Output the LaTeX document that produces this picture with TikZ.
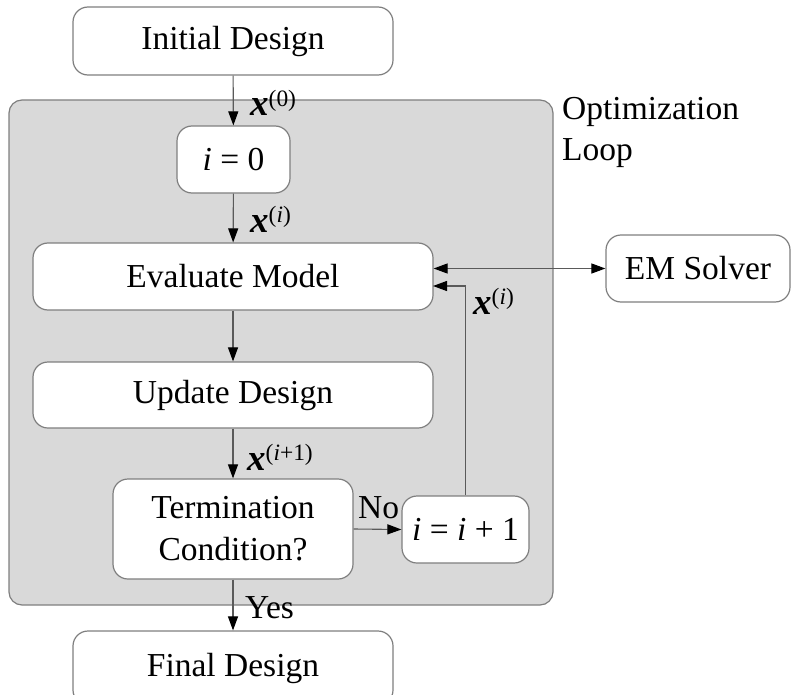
\documentclass[tikz,border=0pt]{standalone}
\usepackage{fontspec}
\setmainfont{Liberation Serif}
\usetikzlibrary{arrows.meta}
\definecolor{loopgray}{HTML}{D9D9D9}
\definecolor{edgegray}{HTML}{7F7F7F}
\definecolor{linegray}{HTML}{5A5A5A}
\newcommand{\bxv}{{\fontsize{37}{37}\selectfont\bfseries\itshape x}}
\begin{document}
\begin{tikzpicture}[x=1pt,y=-1pt,
  box/.style={draw=edgegray, line width=1.2pt, fill=white, rounded corners=15pt,
    inner sep=0pt, align=center, font=\fontsize{33.5}{42}\selectfont},
  loopbox/.style={draw=edgegray, line width=1.2pt, fill=loopgray, rounded corners=13pt, inner sep=0pt},
  conn/.style={draw=linegray, line width=1.1pt, -{Triangle[length=14pt,width=10pt,color=black]}},
  dconn/.style={draw=linegray, line width=1.1pt, {Triangle[length=14pt,width=10pt,color=black]}-{Triangle[length=14pt,width=10pt,color=black]}},
  lbl/.style={inner sep=0pt, font=\fontsize{33.5}{41}\selectfont}]
\useasboundingbox (0,0) rectangle (794,695);
% optimization loop region
\node[loopbox, minimum width=544pt, minimum height=505pt] (loop) at (281,352.5) {};
\node[lbl, anchor=north west, align=left] (looplbl) at (562,97) {Optimization\\Loop};
% boxes
\node[box, minimum width=320pt, minimum height=68pt] (init) at (233,41) {Initial Design};
\node[box, minimum width=113pt, minimum height=67pt] (i0) at (233.5,159.5) {\textit{i} = 0};
\node[box, minimum width=400pt, minimum height=67pt] (eval) at (233,276.5) {Evaluate Model};
\node[box, minimum width=184pt, minimum height=67pt] (em) at (698,268.5) {EM Solver};
\node[box, minimum width=400pt, minimum height=66pt] (upd) at (233,395) {Update Design};
\node[box, minimum width=240pt, minimum height=100pt] (term) at (233,529) {Termination\\Condition?};
\node[box, minimum width=127pt, minimum height=67pt] (inc) at (465.5,529.5) {\textit{i} = \textit{i} + 1};
\node[box, minimum width=320pt, minimum height=74pt] (final) at (233,668) {Final Design};
% connectors
\draw[conn] (init) -- (i0);
\draw[conn] (i0) -- (eval);
\draw[conn] (eval) -- (upd);
\draw[conn] (upd) -- (term);
\draw[conn] (term) -- (final);
\draw[conn] (term.east) -- (inc.west);
\coordinate (fb) at (433,286);
\draw[conn] (inc.north) |- (fb);
\draw[dconn] (eval.east |- em.west) -- (em.west);
% labels
\node[lbl, anchor=base west] (l0) at (250,116) {\bxv\textsuperscript{(0)}};
\node[lbl, anchor=base west] (l1) at (250,232) {\bxv\textsuperscript{(\textit{i})}};
\node[lbl, anchor=base west] (l2) at (473,314) {\bxv\textsuperscript{(\textit{i})}};
\node[lbl, anchor=base west] (l3) at (247,470) {\bxv\textsuperscript{(\textit{i}+1)}};
\node[lbl, anchor=base west] (lno) at (358,518) {No};
\node[lbl, anchor=base west] (lyes) at (245,618) {Yes};
\end{tikzpicture}
\end{document}
